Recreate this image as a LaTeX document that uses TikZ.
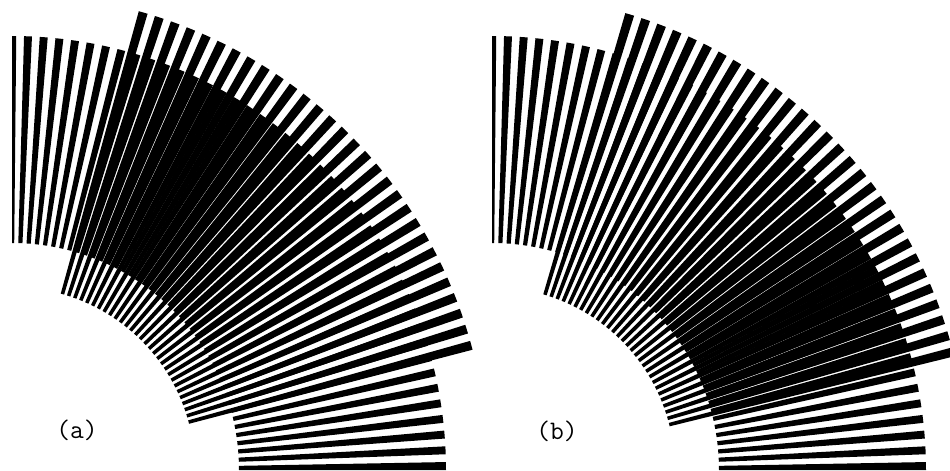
\documentclass[tikz,border=0pt]{standalone}
\usetikzlibrary{positioning}
\tikzset{
  fanbar/.style={fill=black, draw=none},
  panellabel/.style={font=\ttfamily\fontsize{19}{22}\selectfont, inner sep=0pt}
}
% #1 centre, #2 first angle, #3 angular step, #4 bar width, #5 last index, #6 inner r, #7 outer r
\newcommand{\fanbars}[7]{%
  \foreach \k in {0,...,#5}{%
    \pgfmathsetmacro{\ta}{#2+\k*#3}%
    \pgfmathsetmacro{\tb}{min(\ta+#4,90)}%
    \fill[fanbar, shift={(#1)}] (\ta:#6) arc[start angle=\ta, end angle=\tb, radius=#6]
      -- (\tb:#7) arc[start angle=\tb, end angle=\ta, radius=#7] -- cycle;
  }}

\begin{document}
\begin{tikzpicture}[x=0.025cm, y=0.025cm]
  \useasboundingbox (0,0) rectangle (950,470);
  \coordinate (ca) at (12,0);
  \coordinate (cb) at (492,0);
  % panel (a)
  \fanbars{ca}{0}{2.08}{1.05}{43}{227}{434}
  \fanbars{ca}{73.45}{-2.028}{1.1}{29}{183}{476}
  \node[panellabel] (lbla) at (77,40) {(a)};
  % panel (b): second fan turned a little
  \fanbars{cb}{0}{2.08}{1.05}{43}{227}{434}
  \fanbars{cb}{72.63}{-2.028}{1.1}{29}{183}{476}
  \node[panellabel] (lblb) at (557,39) {(b)};
\end{tikzpicture}
\end{document}
